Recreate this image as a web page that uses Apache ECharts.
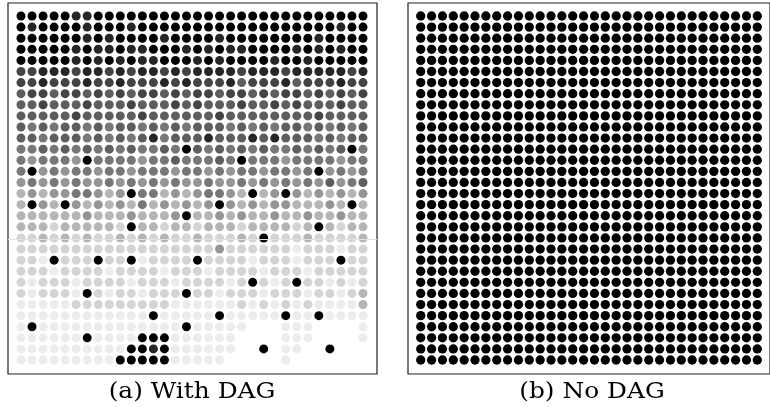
<!DOCTYPE html>
<html><head><meta charset="utf-8">
<script src="https://cdn.jsdelivr.net/npm/echarts@6/dist/echarts.min.js"></script>
<style>html,body{margin:0;padding:0;background:#fff}#c{width:770px;height:407px}</style>
</head><body><div id="c"></div>
<script>
// Shade level per dot, 0 = no dot, 1 = lightest grey ... 9 = black. Rows top to bottom, 32 columns.
const withDagRows = [
  "99999889 99999999 99999999 99999999",
  "98999989 99899999 99999999 99999899",
  "99999989 89999899 99899999 99989999",
  "99999898 89889998 98988999 98989899",
  "99999898 98988999 89899998 99899999",
  "77888788 78788787 88887888 78888878",
  "77877787 78777878 77786777 86777877",
  "67767767 67677676 77677676 77676767",
  "66766676 66766676 76667667 67666766",
  "66666766 66676666 66766666 66676666",
  "65656656 56656565 66656565 66565656",
  "66566656 56568566 68666868 66656566",
  "55656565 65655655 65656565 56565655",
  "54555455 55545565 55654555 45555455",
  "55454554 55455545 54545545 54554545",
  "45454544 54545454 45445454 54546456",
  "34344554 34355343 45543434 44343434",
  "33433434 34353434 34343434 43334343",
  "33333343 33433343 33434334 33433433",
  "33323333 32333233 23332333 32333233",
  "22323232 23232322 32223232 22322223",
  "22222222 22222222 22422222 21222122",
  "22122222 22212222 22222122 21222222",
  "22212222 12222122 21222212 22122222",
  "21222122 22122212 22212221 22221212",
  "21222122 12212221 22122212 22122123",
  "11111222 22222211 11112121 21211113",
  "11111111 11111111 11111111 11111111",
  "11111111 11111111 11111000 11100001",
  "11111111 11111111 11110000 11100001",
  "11111111 11111111 11110010 11001000",
  "11111111 11111111 11100000 10000000"
];
// [column, row, level] dots that stand out black in panel (a)
const withDagBlack = [
  [15,12,9],[30,12,9],[6,13,9],[20,13,9],[1,14,9],[27,14,9],
  [10,16,9],[21,16,9],[24,16,9],[1,17,9],[4,17,9],[18,17,9],[30,17,9],
  [15,18,9],[10,19,9],[27,19,9],[22,20,9],
  [3,22,9],[7,22,9],[10,22,9],[16,22,9],[29,22,9],
  [21,24,9],[25,24,9],[6,25,9],[15,25,9],
  [12,27,9],[18,27,9],[24,27,9],[27,27,9],[1,28,9],[15,28,9],
  [6,29,9],[11,29,9],[12,29,9],[13,29,9],
  [10,30,9],[11,30,9],[12,30,8],[13,30,9],[22,30,9],[28,30,9],
  [9,31,9],[10,31,9],[11,31,9],[12,31,9],[13,31,9]
];
const noDagRows = [
  "99999999 99999999 99999999 99999999","99999999 99999999 99999999 99999999",
  "99999999 99999999 99999999 99999999","99999999 99999999 99999999 99999999",
  "99999999 99999999 99999999 99999999","99999999 99999999 99999999 99999999",
  "99999999 99999999 99999999 99999999","99999999 99999999 99999999 99999999",
  "99999999 99999999 99999999 99999999","99999999 99999999 99999999 99999999",
  "99999999 99999999 99999999 99999999","99999999 99999999 99999999 99999999",
  "99999999 99999999 99999999 99999999","99999999 99999999 99999999 99999999",
  "99999999 99999999 99999999 99999999","99999999 99999999 99999999 99999999",
  "99999999 99999999 99999999 99999999","99999999 99999999 99999999 99999999",
  "99999999 99999999 99999999 99999999","99999999 99999999 99999999 99999999",
  "99999999 99999999 99999999 99999999","99999999 99999999 99999999 99999999",
  "99999999 99999999 99999999 99999999","99999999 99999999 99999999 99999999",
  "99999999 99999999 99999999 99999999","99999999 99999999 99999999 99999999",
  "99999999 99999999 99999999 99999999","99999999 99999999 99999999 99999999",
  "99999999 99999999 99999999 99999999","99999999 99999999 99999999 99999999",
  "99999999 99999999 99999999 99999999","99999999 99999999 99999999 99999999"
];
const shadeColors = ['rgba(0,0,0,0)','#ececec','#d4d4d4','#b5b5b5','#959595','#777777','#5e5e5e','#444444','#262626','#000000'];
const captions = ['(a) With DAG', '(b) No DAG'];

function cells(rows, overrides) {
  const g = rows.map(r => r.replace(/ /g, '').split('').map(Number));
  overrides.forEach(([c, r, v]) => { g[r][c] = v; });
  const out = [];
  g.forEach((row, r) => row.forEach((v, c) => { if (v > 0) out.push([c, r, v]); }));
  return out;
}

const chart = echarts.init(document.getElementById('c'), null, {renderer: 'canvas'});
const axisX = (i, min, max) => ({gridIndex: i, type: 'value', min, max, show: false});
const axisY = (i) => ({gridIndex: i, type: 'value', min: -1.1715, max: 32.26, inverse: true, show: false});
const colorFn = p => shadeColors[p.data[2]];
const capFont = '23px "DejaVu Serif"';

chart.setOption({
  animation: false,
  backgroundColor: '#fff',
  grid: [
    {left: 8, top: 3, width: 369, height: 371, show: true, borderColor: '#222', borderWidth: 1.2, backgroundColor: '#fff'},
    {left: 408, top: 3, width: 370, height: 371, show: true, borderColor: '#222', borderWidth: 1.2, backgroundColor: '#fff'}
  ],
  xAxis: [axisX(0, -1.178, 32.27), axisX(1, -1.1715, 32.17)],
  yAxis: [axisY(0), axisY(1)],
  series: [
    {type: 'scatter', xAxisIndex: 0, yAxisIndex: 0, symbol: 'circle', symbolSize: 9,
     data: cells(withDagRows, withDagBlack), itemStyle: {color: colorFn, opacity: 1}, silent: true,
     markLine: {silent: true, symbol: 'none', label: {show: false},
       lineStyle: {color: '#e2e2e2', width: 1, type: 'solid'}, data: [{yAxis: 20.1}]}},
    {type: 'scatter', xAxisIndex: 1, yAxisIndex: 1, symbol: 'circle', symbolSize: 9.3,
     data: cells(noDagRows, []), itemStyle: {color: colorFn, opacity: 1}, silent: true}
  ],
  graphic: [
    {type: 'text', x: 192, y: 392, scaleX: 1.08, style: {text: captions[0], fill: '#000', font: capFont, textAlign: 'center', textVerticalAlign: 'middle'}},
    {type: 'text', x: 592, y: 392, scaleX: 1.08, style: {text: captions[1], fill: '#000', font: capFont, textAlign: 'center', textVerticalAlign: 'middle'}}
  ]
});
</script></body></html>
